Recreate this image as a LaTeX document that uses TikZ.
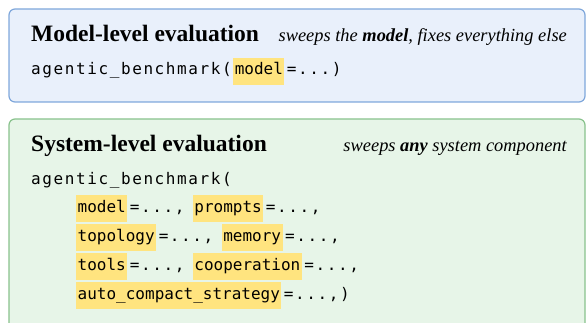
\documentclass[tikz,border=0pt]{standalone}
\usepackage{fontspec}
\setmainfont{Liberation Serif}
\newfontfamily\codefont{DejaVu Sans Mono}
\newfontfamily\codesp[LetterSpace=10]{DejaVu Sans Mono}
\usepackage{xcolor}
\usetikzlibrary{positioning}
\definecolor{bluebd}{HTML}{7FA7DB}
\definecolor{bluebg}{HTML}{E9F0FB}
\definecolor{greenbd}{HTML}{88C28C}
\definecolor{greenbg}{HTML}{E7F5E8}
\definecolor{hlyel}{HTML}{FFE47F}
\newcommand{\hlw}[1]{{\setlength{\fboxsep}{1.5pt}\colorbox{hlyel}{\codefont\vrule height 15.5pt depth 8.5pt width 0pt #1}}\hspace{2.5pt}}
\tikzset{
  panel/.style={draw=#1bd,fill=#1bg,line width=1.2pt,rounded corners=6pt},
  head/.style={anchor=base west,inner sep=0pt,font=\fontsize{23.5}{28}\selectfont\bfseries},
  note/.style={anchor=base east,inner sep=0pt,font=\fontsize{18.4}{22}\selectfont\itshape},
  code/.style={anchor=base west,inner sep=0pt,font=\fontsize{16}{19}\selectfont\codesp}
}
\begin{document}
\begin{tikzpicture}[x=1pt,y=-1pt]
\useasboundingbox (0,0) rectangle (586,323);
% model-level panel
\draw[panel=blue] (9,9) rectangle (585,102);
\node[head] (mhead) at (31,42) {Model-level evaluation};
\node[note] (mnote) at (567,42) {sweeps the \textbf{model}, fixes everything else};
\node[code] (mcall) at (31,75) {agentic\_benchmark(\hspace{1.5pt}\hlw{model}=...)};
% system-level panel
\draw[panel=green] (9,119) rectangle (585,345);
\node[head] (shead) at (31,152) {System-level evaluation};
\node[note] (snote) at (567,152) {sweeps \textbf{any} system component};
\node[code] (scall) at (31,185) {agentic\_benchmark(};
\node[code] (srow1) at (76,212) {\hlw{model}=...,\hspace{8.5pt}\hlw{prompts}=...,};
\node[code] (srow2) at (76,241) {\hlw{topology}=...,\hspace{8.5pt}\hlw{memory}=...,};
\node[code] (srow3) at (76,270) {\hlw{tools}=...,\hspace{8.5pt}\hlw{cooperation}=...,};
\node[code] (srow4) at (76,299) {\hlw{auto\_compact\_strategy}=...,)};
\end{tikzpicture}
\end{document}
